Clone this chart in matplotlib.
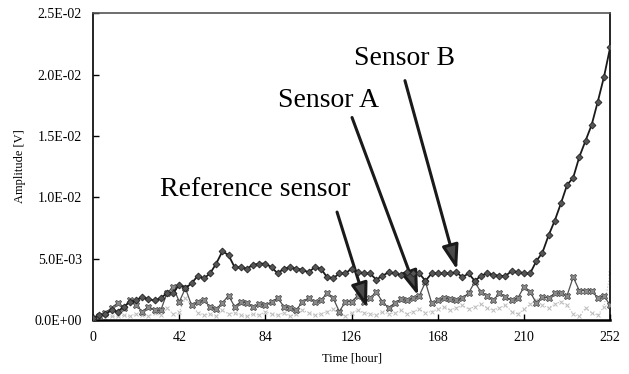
import matplotlib
matplotlib.use('Agg')
import matplotlib.pyplot as plt
from matplotlib.ticker import FuncFormatter

plt.rcParams['font.family'] = ['Liberation Serif', 'DejaVu Serif']

# time axis [hour], sampled every 3 hours
time_h = list(range(0, 253, 3))

# amplitudes in units of 1E-3 V
sensor_b = [0.2, 0.4, 0.5, 0.8, 0.7, 1.1, 1.5, 1.6, 1.9, 1.7,
            1.6, 1.8, 2.2, 2.2, 2.9, 2.6, 3.0, 3.6, 3.4, 3.8,
            4.6, 5.6, 5.3, 4.3, 4.3, 4.2, 4.5, 4.6, 4.6, 4.3,
            3.8, 4.2, 4.3, 4.2, 4.1, 3.9, 4.3, 4.2, 3.5, 3.4,
            3.8, 3.8, 4.2, 3.9, 3.8, 3.8, 3.3, 3.6, 3.9, 3.8,
            3.7, 3.9, 3.8, 3.8, 3.2, 3.8, 3.8, 3.8, 3.8, 3.9,
            3.5, 3.8, 3.2, 3.6, 3.8, 3.7, 3.6, 3.6, 4.0, 3.9,
            3.8, 3.8, 4.8, 5.5, 6.9, 8.1, 9.5, 11.0, 11.6, 13.3,
            14.6, 15.9, 17.8, 19.8, 22.2]

sensor_a = [0.1, 0.3, 0.6, 1.0, 1.4, 1.0, 1.6, 1.2, 0.7, 1.1,
            0.8, 0.8, 2.2, 2.7, 1.5, 2.6, 1.2, 1.5, 1.6, 1.1,
            0.9, 1.4, 2.0, 1.1, 1.5, 1.4, 1.1, 1.3, 1.2, 1.5,
            1.8, 1.1, 1.0, 0.8, 1.5, 1.8, 1.5, 1.6, 2.2, 1.8,
            0.7, 1.5, 1.5, 2.0, 1.5, 1.8, 2.3, 1.5, 1.0, 1.4,
            1.7, 1.6, 1.8, 2.0, 3.1, 1.4, 1.6, 1.8, 1.7, 1.6,
            1.8, 2.2, 3.1, 2.3, 2.0, 1.6, 2.2, 1.9, 1.6, 1.8,
            2.7, 2.3, 1.4, 1.9, 1.8, 2.2, 2.2, 2.0, 3.5, 2.4,
            2.4, 2.4, 1.8, 2.0, 1.2]

reference = [0.1, 0.1, 0.2, 0.3, 0.3, 0.4, 0.3, 0.5, 0.4, 0.3,
             0.6, 0.4, 1.0, 0.5, 0.7, 1.8, 1.2, 0.6, 0.4, 0.5,
             0.3, 0.8, 0.5, 0.6, 0.4, 0.3, 0.5, 0.4, 0.7, 0.5,
             0.4, 0.6, 0.3, 0.5, 0.8, 0.6, 0.4, 0.5, 0.7, 0.9,
             0.5, 0.3, 0.6, 0.8, 0.6, 0.5, 0.4, 0.7, 0.5, 0.6,
             0.8, 0.5, 0.7, 0.9, 0.6, 0.7, 0.9, 1.1, 0.8, 1.0,
             1.2, 0.9, 1.1, 1.3, 1.0, 0.8, 1.0, 1.2, 0.7, 0.5,
             0.9, 1.3, 1.6, 1.2, 1.0, 1.3, 1.5, 1.2, 0.5, 0.3,
             1.0, 0.6, 0.4, 1.1, 3.8]

x_ticks = [0, 42, 84, 126, 168, 210, 252]
y_ticks = [0, 0.005, 0.010, 0.015, 0.020, 0.025]

to_v = lambda vals: [v * 1e-3 for v in vals]

fig = plt.figure(figsize=(6.29, 3.74), dpi=100)
ax = fig.add_axes([0.148, 0.144, 0.822, 0.821])

ax.plot(time_h, to_v(reference), color='#bdbdbd', lw=0.8, ls=':',
        marker='x', ms=3.5, mew=0.7, zorder=2)
ax.plot(time_h, to_v(sensor_a), color='#505050', lw=0.9,
        marker='X', ms=5, mfc='#8a8a8a', mec='#404040', mew=0.5, zorder=3)
ax.plot(time_h, to_v(sensor_b), color='#1a1a1a', lw=1.3,
        marker='D', ms=3.5, mfc='#555555', mec='#222222', mew=0.6, zorder=4)

ax.set_xlim(0, 252)
ax.set_ylim(0, 0.025)
ax.set_xticks(x_ticks)
ax.set_yticks(y_ticks)
ax.yaxis.set_major_formatter(FuncFormatter(lambda v, _: f'{v:.1E}'))
ax.tick_params(direction='in', length=4, width=1, labelsize=10, pad=8)
ax.set_xlabel('Time [hour]', fontsize=9, labelpad=6)
ax.set_ylabel('Amplitude [V]', fontsize=9, labelpad=6)

for side in ['left', 'right', 'top']:
    ax.spines[side].set_linewidth(1.2)
ax.spines['bottom'].set_linewidth(1.8)
ax.spines['top'].set_color('#555555')

arrow_kw = dict(arrowstyle='-|>,head_length=0.75,head_width=0.25', mutation_scale=20,
                lw=2.2, color='#1a1a1a', fc='#4a4a4a', shrinkA=0, shrinkB=0)

ax.text(152, 0.0213, 'Sensor B', fontsize=20, ha='center', va='center')
ax.annotate('', xy=(177.4, 0.0041), xytext=(152, 0.0195), arrowprops=arrow_kw)

ax.text(114.5, 0.0179, 'Sensor A', fontsize=20, ha='center', va='center')
ax.annotate('', xy=(158.4, 0.0020), xytext=(126.2, 0.0165), arrowprops=arrow_kw)

ax.text(79, 0.0106, 'Reference sensor', fontsize=20, ha='center', va='center')
ax.annotate('', xy=(133.5, 0.0010), xytext=(118.9, 0.0088), arrowprops=arrow_kw)

fig.savefig('out.png', dpi=100)
